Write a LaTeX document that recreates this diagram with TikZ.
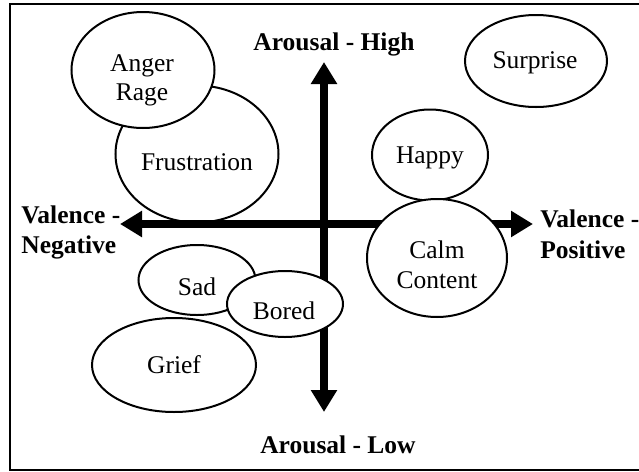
\documentclass[tikz,border=0pt]{standalone}
\usepackage{fontspec}
\setmainfont{Liberation Serif}
\usetikzlibrary{arrows.meta,shapes.geometric}
\tikzset{
  emo/.style 2 args={ellipse, draw, fill=white, line width=1pt, inner sep=0pt,
    minimum width=#1*0.5pt, minimum height=#2*0.5pt},
  lbl/.style={font=\fontsize{12.75pt}{15pt}\selectfont, anchor=base, inner sep=0pt},
  axl/.style={font=\fontsize{12.75pt}{15pt}\selectfont\bfseries, anchor=base, inner sep=0pt},
  axisarrow/.style={line width=4pt, {Triangle[length=11pt,width=12.5pt]}-{Triangle[length=11pt,width=12.5pt]}}
}
\begin{document}
\begin{tikzpicture}[x=0.5pt,y=-0.5pt]
\useasboundingbox (0,0) rectangle (639,472);
\draw[line width=1pt] (660,4) -- (10,4) -- (10,470) -- (660,470);
% upper-left cluster
\node[emo={163}{137}] (fru) at (197,154) {};
\node[emo={143}{116}] (ang) at (143,70) {};
% axes
\coordinate (W) at (120,224);
\coordinate (E) at (533,224);
\coordinate (N) at (324,62);
\coordinate (S) at (324,412);
\draw[axisarrow] (W) -- (E);
\draw[axisarrow] (N) -- (S);
% other ellipses
\node[emo={142}{92}] (sur) at (536,61) {};
\node[emo={116}{91}] (hap) at (430,155) {};
\node[emo={140}{118}] (calm) at (437,258) {};
\node[emo={117}{70}] (sad) at (197,280) {};
\node[emo={116}{66}] (bor) at (285,304) {};
\node[emo={164}{94}] (gri) at (174,365) {};
% labels
\node[lbl] (tang) at (142,71) {Anger};
\node[lbl] (trage) at (142,100) {Rage};
\node[lbl] (tfru) at (197,170) {Frustration};
\node[lbl] (tsur) at (535,68) {Surprise};
\node[lbl] (thap) at (430,163) {Happy};
\node[lbl] (tcalm) at (437,258) {Calm};
\node[lbl] (tcont) at (437,288) {Content};
\node[lbl] (tsad) at (197,295) {Sad};
\node[lbl] (tbor) at (284,319) {Bored};
\node[lbl] (tgri) at (174,373) {Grief};
% axis labels
\node[axl] (ah) at (334,50) {Arousal - High};
\node[axl] (al) at (338,453) {Arousal - Low};
\node[axl, anchor=base west] (vn1) at (21,223) {Valence -};
\node[axl, anchor=base west] (vn2) at (21,253) {Negative};
\node[axl, anchor=base west] (vp1) at (540,227) {Valence -};
\node[axl, anchor=base west] (vp2) at (540,258) {Positive};
\end{tikzpicture}
\end{document}
